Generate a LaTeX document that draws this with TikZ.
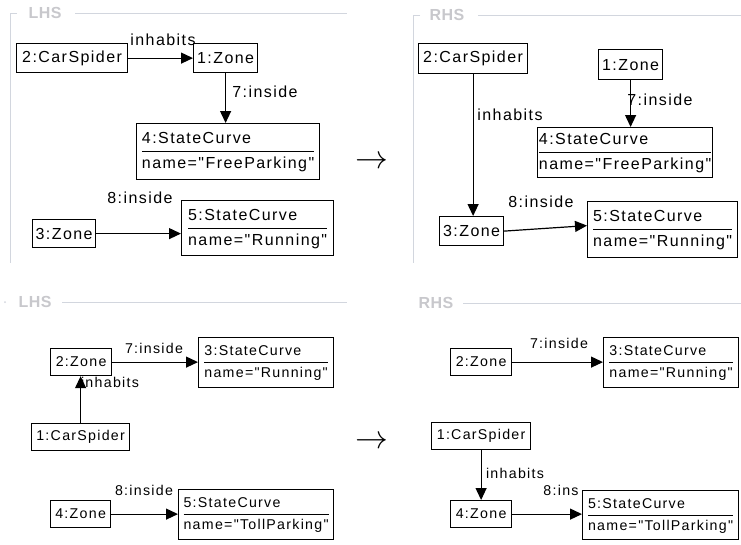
\documentclass[tikz,border=0pt]{standalone}
\usepackage{fontspec}
\usepackage{graphicx}
\setmainfont{Liberation Sans}[LetterSpace=9,Ligatures=TeXOff]
\newfontfamily\hsfont{Liberation Sans}[LetterSpace=3]
\usetikzlibrary{arrows.meta,calc}
\definecolor{framegray}{RGB}{210,214,222}
\definecolor{hsgray}{RGB}{200,200,204}
\setlength{\arrayrulewidth}{1pt}
\renewcommand\arraystretch{1.25}
\newcommand\objtwo[2]{\begin{tabular}{@{}l@{}}#1\\\hline #2\end{tabular}}
\begin{document}
\begin{tikzpicture}[x=1pt,y=-1pt,
 font=\fontsize{16}{19}\selectfont,
 obj/.style={draw, line width=1.2pt, anchor=north west, inner sep=0pt},
 conn/.style={line width=1.2pt, -{Triangle[length=12pt,width=11pt]}},
 lbl/.style={inner sep=0pt},
 sm/.style={font=\fontsize{14.2}{16.5}\selectfont},
 frame/.style={draw=framegray, line width=1pt},
 hs/.style={text=hsgray, font={\hsfont\bfseries\fontsize{16}{19}\selectfont}, inner sep=0pt},
 bigarrow/.style={inner sep=0pt}
]
\useasboundingbox (0,0) rectangle (741,544);
\fill[white] (0,0) rectangle (741,544);

% ---------- frames ----------
\draw[frame] (17,13) -- (10,13) -- (10,263);
\node[hs] (tlhs) at (45,13) {LHS};
\draw[frame] (75,13) -- (347,13);
\draw[frame] (420,15) -- (413,15) -- (413,263);
\node[hs] (trhs) at (447,15) {RHS};
\draw[frame] (478,15) -- (741,15);
\fill[framegray] (5,302) circle (1pt);
\node[hs] (blhs) at (35,302) {LHS};
\draw[frame] (62,302) -- (347,302);
\node[hs] (brhs) at (436,303) {RHS};
\draw[frame] (463,303) -- (741,303);

% ---------- top LHS ----------
\node[obj, minimum width=111pt, minimum height=29pt] (a2) at (16,43) {2:CarSpider};
\node[obj, minimum width=64pt, minimum height=29pt] (a1) at (193,43) {1:Zone};
\node[obj, minimum width=183pt, minimum height=56pt] (a4) at (136,123) {\objtwo{4:StateCurve}{name="FreeParking"}};
\node[obj, minimum width=63pt, minimum height=28pt] (a3) at (32,219) {3:Zone};
\node[obj, minimum width=152pt, minimum height=55pt] (a5) at (181,200) {\objtwo{5:StateCurve}{name="Running"}};
\draw[conn] (a2.east) -- (a1.west);
\draw[conn] (a1.south) -- (a1.south |- a4.north);
\draw[conn] (a3.east) -- (a3.east -| a5.west);
\node[lbl] (al1) at (163,40) {inhabits};
\node[lbl] (al2) at (265,92) {7:inside};
\node[lbl] (al3) at (140,198) {8:inside};

\node[bigarrow] (arrtop) at (372,162) {\scalebox{1.9}{$\rightarrow$}};

% ---------- top RHS ----------
\node[obj, minimum width=109pt, minimum height=30pt] (b2) at (418,43) {2:CarSpider};
\node[obj, minimum width=64pt, minimum height=30pt] (b1) at (598,49) {1:Zone};
\node[obj, minimum width=175pt, minimum height=50pt] (b4) at (537,127) {\objtwo{4:StateCurve}{name="FreeParking"}};
\node[obj, minimum width=64pt, minimum height=29pt] (b3) at (439,216) {3:Zone};
\node[obj, minimum width=150pt, minimum height=56pt] (b5) at (587,201) {\objtwo{5:StateCurve}{name="Running"}};
\draw[conn] (b2.south) -- (b2.south |- b3.north);
\draw[conn] (b1.south) -- (b1.south |- b4.north);
\draw[conn] (b3.east) -- ($(b5.west)+(0,-4)$);
\node[lbl] (bl1) at (510,115) {inhabits};
\node[lbl] (bl2) at (660,100) {7:inside};
\node[lbl] (bl3) at (541,202) {8:inside};

% ---------- bottom LHS ----------
\begin{scope}[sm]
\node[obj, minimum width=61pt, minimum height=27pt] (c2) at (50,348) {2:Zone};
\node[obj, minimum width=135pt, minimum height=50pt] (c3) at (198,337) {\objtwo{3:StateCurve}{name="Running"}};
\node[obj, minimum width=98pt, minimum height=27pt] (c1) at (31,423) {1:CarSpider};
\node[obj, minimum width=60pt, minimum height=27pt] (c4) at (50,500) {4:Zone};
\node[obj, minimum width=155pt, minimum height=50pt] (c5) at (178,489) {\objtwo{5:StateCurve}{name="TollParking"}};
\draw[conn] (c2.east) -- (c2.east -| c3.west);
\draw[conn] (c1.north) -- (c1.north |- c2.south);
\draw[conn] (c4.east) -- (c4.east -| c5.west);
\node[lbl] (cl1) at (154,348) {7:inside};
\node[lbl] (cl2) at (110,382) {inhabits};
\node[lbl] (cl3) at (144,490) {8:inside};
\end{scope}

\node[bigarrow] (arrbot) at (372,442) {\scalebox{1.9}{$\rightarrow$}};

% ---------- bottom RHS ----------
\begin{scope}[sm]
\node[obj, minimum width=61pt, minimum height=27pt] (d2) at (450,348) {2:Zone};
\node[obj, minimum width=135pt, minimum height=50pt] (d3) at (603,337) {\objtwo{3:StateCurve}{name="Running"}};
\node[obj, minimum width=99pt, minimum height=27pt] (d1) at (431,422) {1:CarSpider};
\node[obj, minimum width=61pt, minimum height=27pt] (d4) at (450,500) {4:Zone};
\node[obj, minimum width=156pt, minimum height=49pt] (d5) at (582,490) {\objtwo{5:StateCurve}{name="TollParking"}};
\draw[conn] (d2.east) -- (d2.east -| d3.west);
\draw[conn] (d1.south) -- (d1.south |- d4.north);
\draw[conn] (d4.east) -- (d4.east -| d5.west);
\node[lbl] (dl1) at (559,343) {7:inside};
\node[lbl] (dl2) at (515,473) {inhabits};
\node[lbl] (dl3) at (561,490) {8:ins};
\end{scope}
\end{tikzpicture}
\end{document}
